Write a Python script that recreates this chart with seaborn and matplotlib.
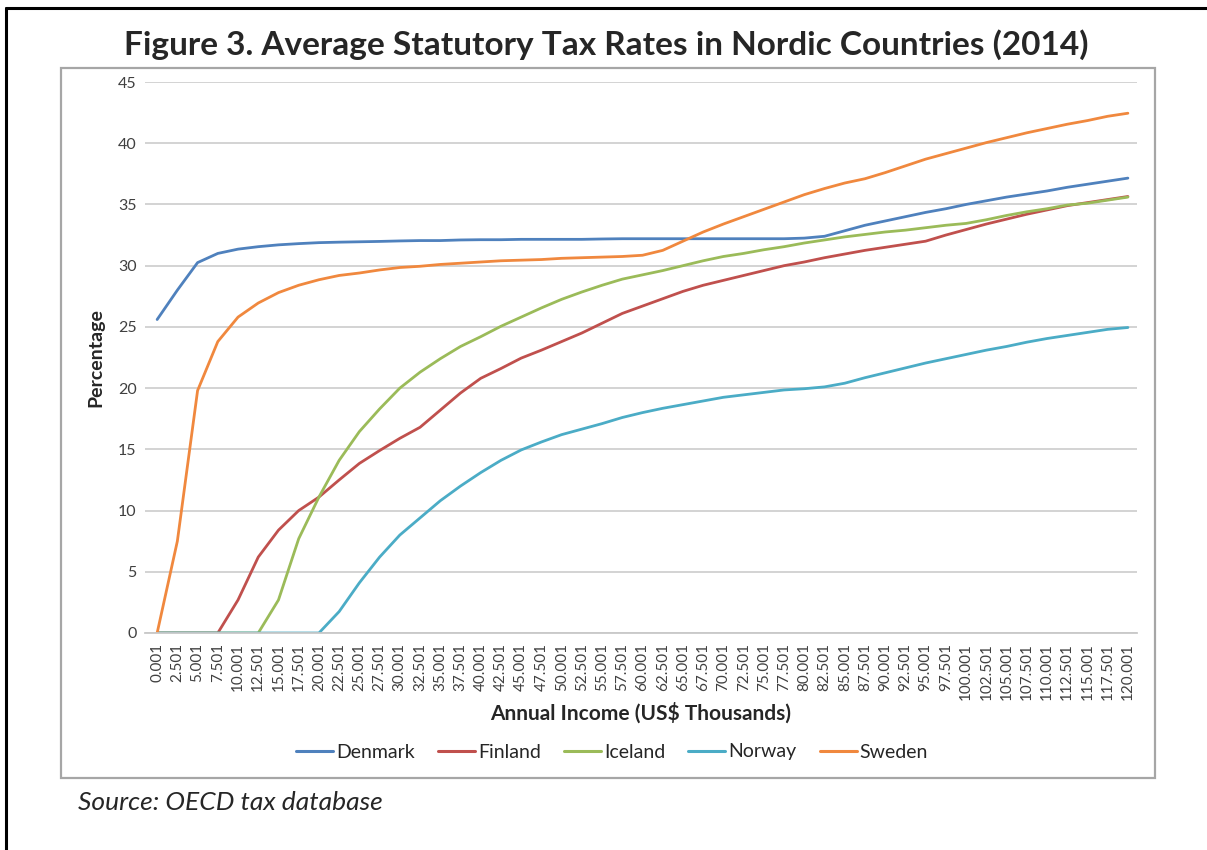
import numpy as np
import pandas as pd
import matplotlib
matplotlib.use("Agg")
import matplotlib.pyplot as plt
import seaborn as sns
from matplotlib.lines import Line2D
from matplotlib.patches import Rectangle

# income brackets (US$ thousands)
income = ["0.001", "2.501", "5.001", "7.501", "10.001", "12.501", "15.001", "17.501",
          "20.001", "22.501", "25.001", "27.501", "30.001", "32.501", "35.001", "37.501",
          "40.001", "42.501", "45.001", "47.501", "50.001", "52.501", "55.001", "57.501",
          "60.001", "62.501", "65.001", "67.501", "70.001", "72.501", "75.001", "77.501",
          "80.001", "82.501", "85.001", "87.501", "90.001", "92.501", "95.001", "97.501",
          "100.001", "102.501", "105.001", "107.501", "110.001", "112.501", "115.001",
          "117.501", "120.001"]

denmark = [25.6, 28.0, 30.25, 31.0, 31.35, 31.55, 31.7, 31.8, 31.88, 31.92, 31.95, 31.98,
           32.02, 32.05, 32.05, 32.1, 32.12, 32.12, 32.15, 32.15, 32.15, 32.15, 32.18, 32.2,
           32.2, 32.2, 32.2, 32.2, 32.2, 32.2, 32.2, 32.2, 32.25, 32.4, 32.85, 33.3, 33.65,
           34.0, 34.35, 34.65, 35.0, 35.3, 35.6, 35.85, 36.1, 36.4, 36.65, 36.9, 37.15]

finland = [0, 0, 0, 0, 2.7, 6.2, 8.4, 10.0, 11.1, 12.5, 13.85, 14.9, 15.9, 16.8, 18.2, 19.6,
           20.8, 21.6, 22.45, 23.1, 23.8, 24.5, 25.3, 26.1, 26.7, 27.3, 27.9, 28.4, 28.8,
           29.2, 29.6, 30.0, 30.3, 30.65, 30.95, 31.25, 31.5, 31.75, 32.0, 32.5, 32.95,
           33.4, 33.8, 34.2, 34.55, 34.9, 35.15, 35.4, 35.65]

iceland = [0, 0, 0, 0, 0, 0, 2.7, 7.7, 11.1, 14.1, 16.45, 18.3, 20.0, 21.3, 22.4, 23.4,
           24.2, 25.05, 25.8, 26.55, 27.25, 27.85, 28.4, 28.9, 29.25, 29.6, 30.0, 30.4,
           30.75, 31.0, 31.3, 31.55, 31.85, 32.1, 32.35, 32.55, 32.75, 32.9, 33.1, 33.3,
           33.45, 33.75, 34.1, 34.4, 34.65, 34.95, 35.1, 35.35, 35.6]

norway = [0, 0, 0, 0, 0, 0, 0, 0, 0, 1.75, 4.1, 6.2, 8.0, 9.4, 10.8, 12.0, 13.1, 14.1,
          14.95, 15.6, 16.2, 16.65, 17.1, 17.6, 18.0, 18.35, 18.65, 18.95, 19.25, 19.45,
          19.65, 19.85, 19.95, 20.1, 20.4, 20.85, 21.25, 21.65, 22.05, 22.4, 22.75, 23.1,
          23.4, 23.75, 24.05, 24.3, 24.55, 24.8, 24.95]

sweden = [0, 7.5, 19.8, 23.8, 25.8, 26.95, 27.8, 28.4, 28.85, 29.2, 29.4, 29.65, 29.85,
          29.95, 30.1, 30.2, 30.3, 30.4, 30.45, 30.5, 30.6, 30.65, 30.7, 30.75, 30.85,
          31.25, 32.0, 32.75, 33.4, 34.0, 34.6, 35.2, 35.8, 36.3, 36.75, 37.1, 37.6, 38.15,
          38.7, 39.15, 39.6, 40.05, 40.45, 40.85, 41.2, 41.55, 41.85, 42.2, 42.45]

countries = ["Denmark", "Finland", "Iceland", "Norway", "Sweden"]
colors = ["#4F81BD", "#C0504D", "#9BBB59", "#4BACC6", "#F0883E"]

df = pd.DataFrame({"Denmark": denmark, "Finland": finland, "Iceland": iceland,
                   "Norway": norway, "Sweden": sweden})
df["pos"] = np.arange(len(income))
long = df.melt(id_vars="pos", var_name="Country", value_name="Rate")

sns.set_style("white")
plt.rcParams["font.family"] = ["Lato", "DejaVu Sans"]

fig = plt.figure(figsize=(12.07, 8.5), dpi=100)

# outer page frame (top and left only)
fig.add_artist(Line2D([6 / 1207, 1.0], [1 - 8 / 850, 1 - 8 / 850], color="black", lw=2.2,
                      transform=fig.transFigure))
fig.add_artist(Line2D([6 / 1207, 6 / 1207], [0, 1 - 8 / 850], color="black", lw=2.2,
                      transform=fig.transFigure))
# chart border
fig.add_artist(Rectangle((61 / 1207, 1 - 778 / 850), (1155 - 61) / 1207, (778 - 68) / 850,
                         fill=False, edgecolor="#a6a6a6", lw=1.6, transform=fig.transFigure))

ax = fig.add_axes([145 / 1207, 1 - 633 / 850, (1137 - 145) / 1207, (633 - 82) / 850])
sns.lineplot(data=long, x="pos", y="Rate", hue="Country", palette=colors,
             linewidth=2.0, ax=ax, legend=False)

ax.set_ylim(0, 45)
ax.set_yticks(np.arange(0, 46, 5))
ax.set_xlim(-0.6, 48.45)
ax.set_xticks(np.arange(len(income)))
ax.set_xticklabels(income, rotation=90, fontsize=11, color="#404040")
ax.tick_params(axis="y", labelsize=11.5, labelcolor="#404040", length=0, pad=6)
ax.tick_params(axis="x", length=0, pad=7)
ax.grid(axis="y", color="#d0d0d0", lw=1.3)
ax.set_axisbelow(True)
for s in ["left", "right", "top"]:
    ax.spines[s].set_visible(False)
ax.spines["bottom"].set_color("#c8c8c8")
ax.spines["bottom"].set_linewidth(1.3)

ax.set_ylabel("Percentage", fontsize=14, fontweight="bold", labelpad=10)
ax.set_xlabel("Annual Income (US$ Thousands)", fontsize=15, fontweight="bold", labelpad=2)

handles = [Line2D([0], [0], color=c, lw=2.2) for c in colors]
fig.legend(handles, countries, loc="center", bbox_to_anchor=(612 / 1207, 1 - 752 / 850),
           ncol=5, frameon=False, fontsize=14, handlelength=1.9, handletextpad=0.15,
           columnspacing=1.2)

fig.text(0.502, 1 - 45 / 850, "Figure 3. Average Statutory Tax Rates in Nordic Countries (2014)",
         ha="center", va="center", fontsize=24, fontweight="bold")
fig.text(78 / 1207, 1 - 802 / 850, "Source: OECD tax database", ha="left", va="center",
         fontsize=19, style="italic")

fig.savefig("out.png", dpi=100)
